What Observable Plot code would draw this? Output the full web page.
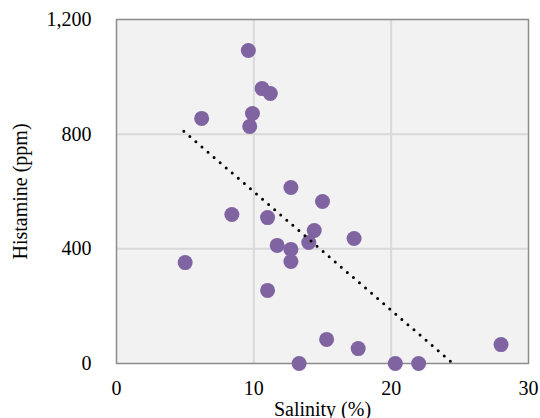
<!DOCTYPE html>
<html>
<head>
<meta charset="utf-8">
<script src="https://cdn.jsdelivr.net/npm/d3@7"></script>
<script src="https://cdn.jsdelivr.net/npm/@observablehq/plot@0.6"></script>
<style>
  html, body { margin: 0; padding: 0; background: #fff; }
  svg text { font-family: 'Liberation Serif', 'Times New Roman', serif; }
</style>
</head>
<body>
<div id="chart"></div>
<script>
const salinity = [9.6, 10.6, 11.2, 9.9, 9.7, 6.2, 8.4, 5.0, 11.0, 12.7, 15.0, 14.4, 14.0, 12.7, 12.7, 11.7, 17.3, 11.0, 15.3, 17.6, 13.3, 20.3, 22.0, 28.0];
const histamine = [1092, 959, 942, 872, 827, 855, 520, 352, 509, 614, 565, 464, 422, 398, 356, 412, 436, 255, 84, 52, 0, 0, 0, 66];
const trendX = [4.9, 24.5];
const trendY = [810, 0];
const xTicks = [0, 10, 20, 30];
const yTicks = [0, 400, 800, 1200];

const points = salinity.map((s, i) => ({x: s, y: histamine[i]}));
const trend = trendX.map((t, i) => ({x: t, y: trendY[i]}));
const serif = "'Liberation Serif', 'Times New Roman', serif";

const chart = Plot.plot({
  width: 540,
  height: 418,
  marginLeft: 116,
  marginRight: 12,
  marginTop: 19,
  marginBottom: 55,
  style: {fontFamily: serif, fontSize: "20px", color: "#000", background: "#fff"},
  x: {domain: [0, 30]},
  y: {domain: [0, 1200]},
  marks: [
    Plot.frame({fill: "#F2F2F2", stroke: null}),
    Plot.gridX({ticks: [10, 20], stroke: "#D9D9D9", strokeOpacity: 1, strokeWidth: 2}),
    Plot.gridY({ticks: [400, 800], stroke: "#D9D9D9", strokeOpacity: 1, strokeWidth: 2}),
    Plot.frame({stroke: "#8C8C8C", strokeWidth: 1.5}),
    Plot.axisX({ticks: xTicks, tickSize: 0, tickPadding: 17, label: "Salinity (%)", labelAnchor: "center", labelArrow: "none", labelOffset: 52, fontSize: 20, fontFamily: serif}),
    Plot.axisY({ticks: yTicks, tickSize: 0, tickPadding: 25, tickFormat: d3.format(","), label: "Histamine (ppm)", labelAnchor: "center", labelArrow: "none", labelOffset: 104, fontSize: 20, fontFamily: serif}),
    Plot.dot(points, {x: "x", y: "y", r: 7.5, fill: "#8064A2", stroke: null}),
    Plot.line(trend, {x: "x", y: "y", stroke: "#000", strokeWidth: 3, strokeDasharray: "0,8", strokeLinecap: "round"})
  ]
});
document.getElementById("chart").appendChild(chart);
</script>
</body>
</html>
